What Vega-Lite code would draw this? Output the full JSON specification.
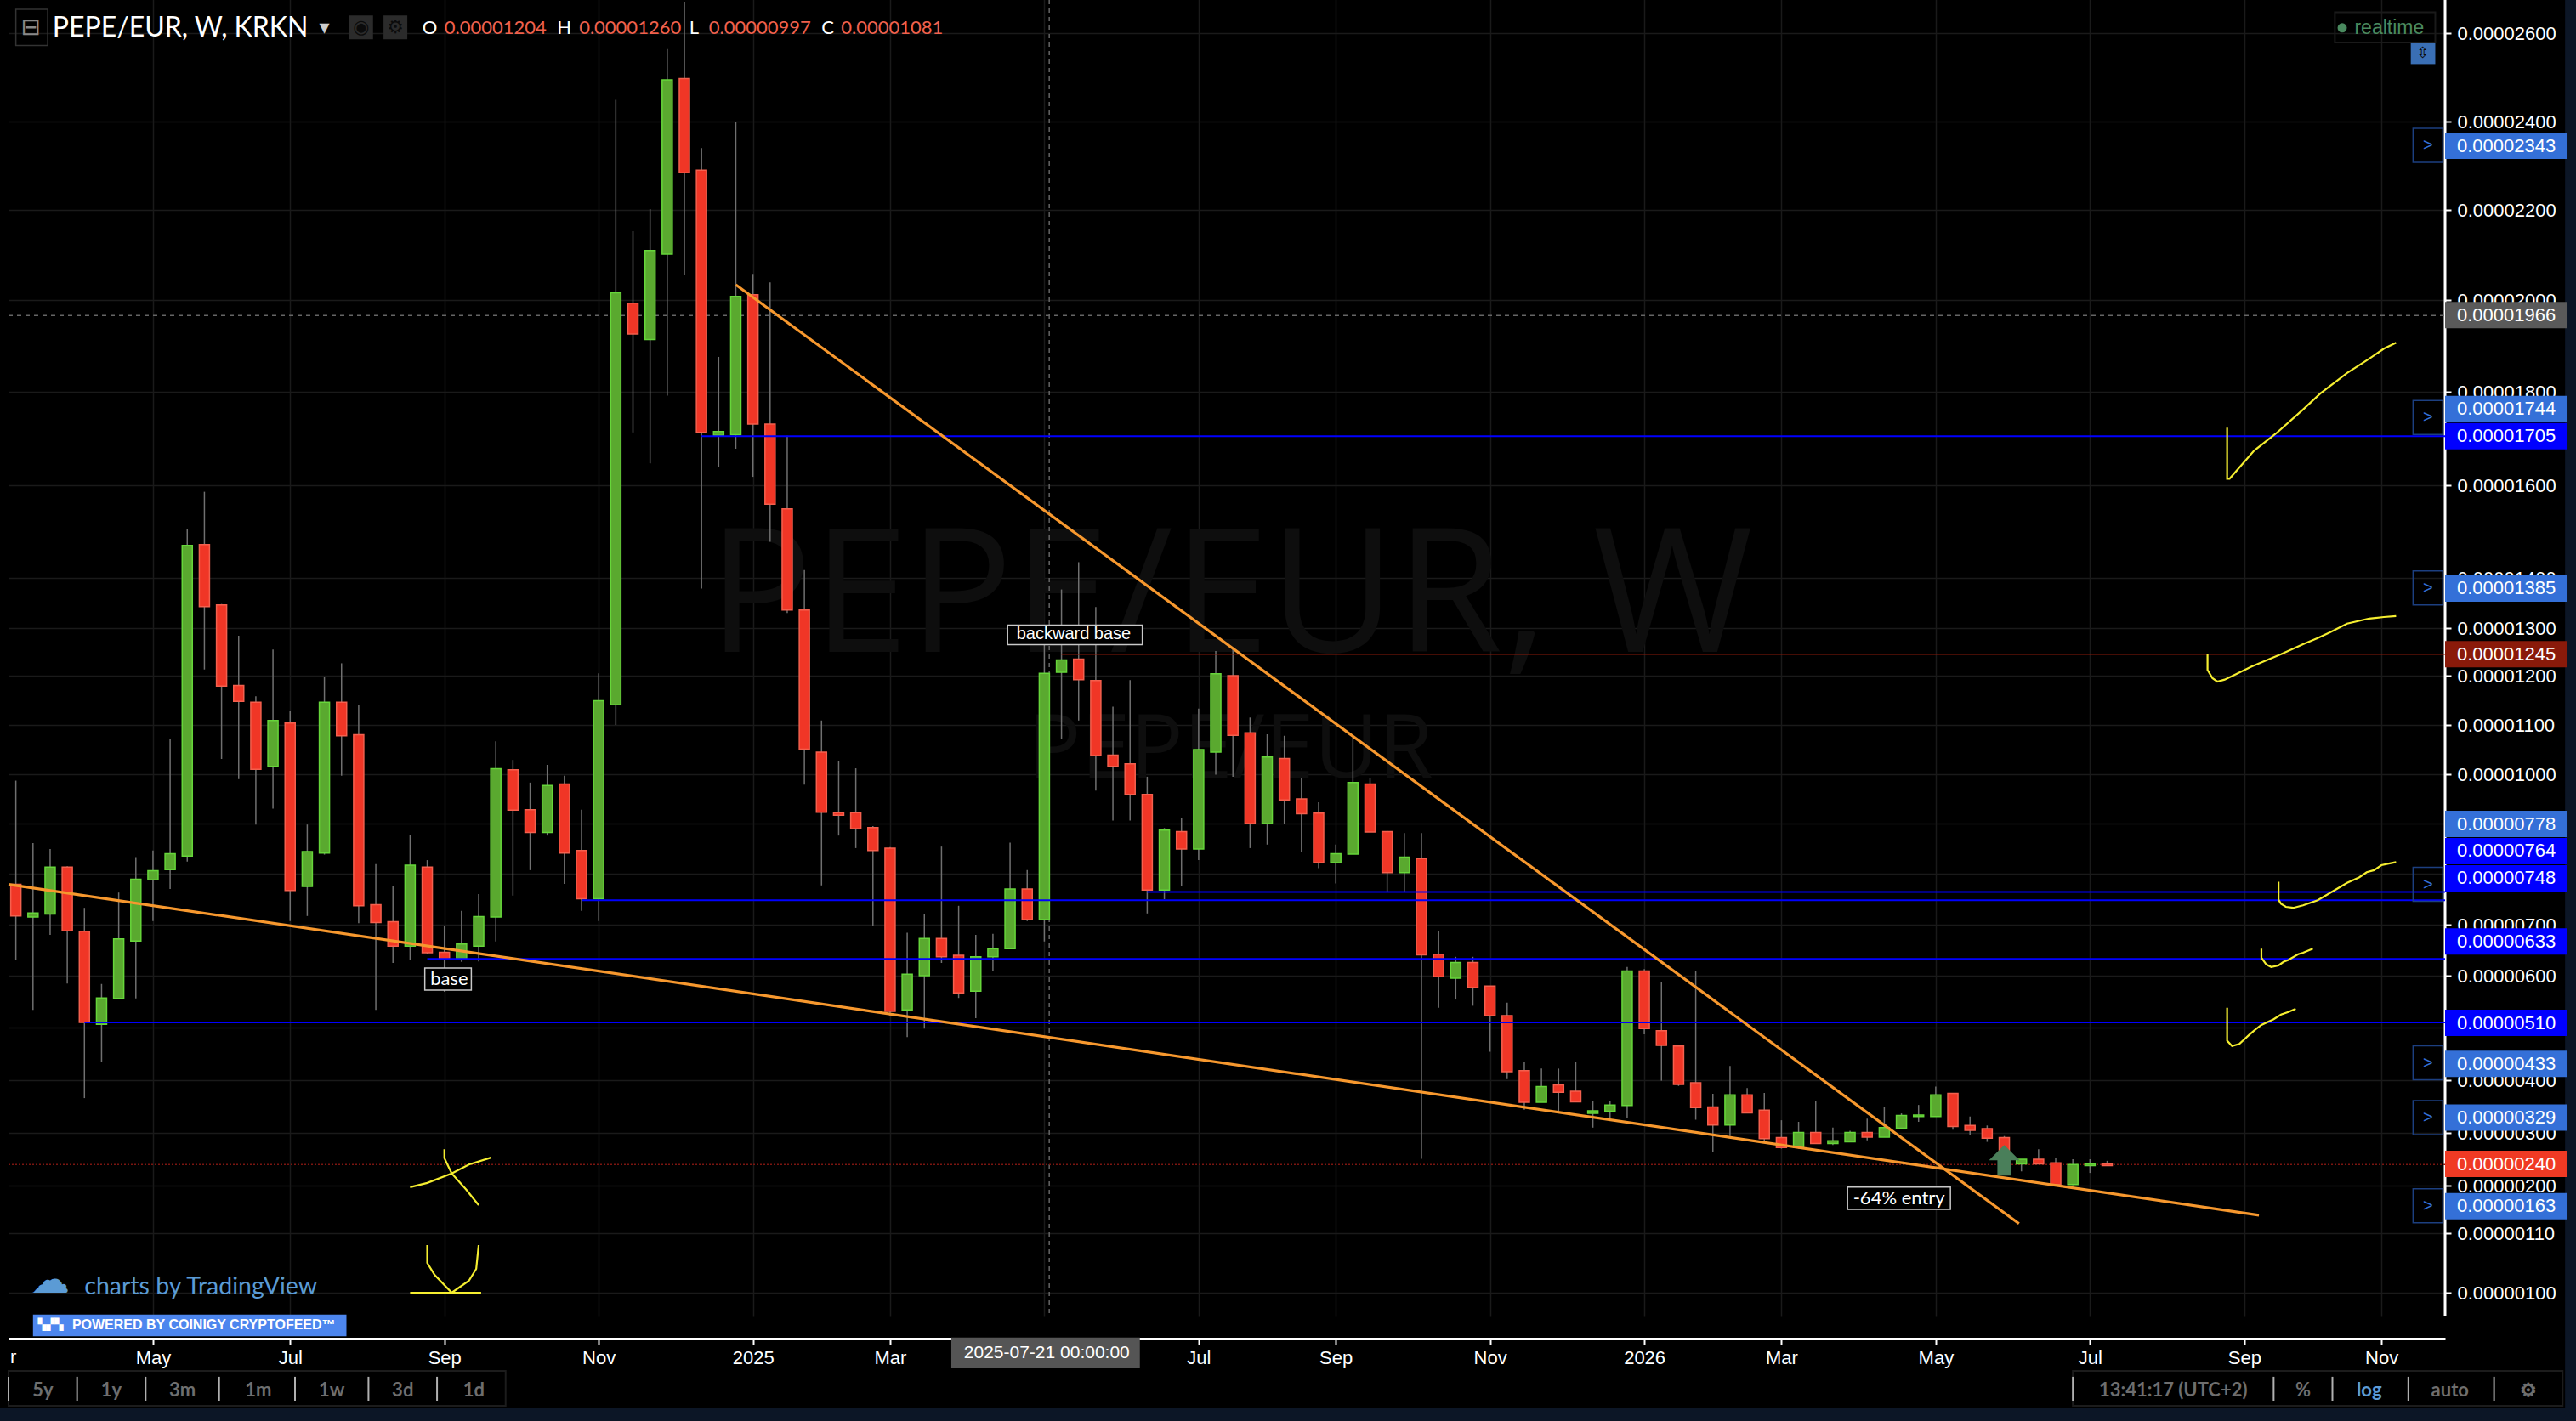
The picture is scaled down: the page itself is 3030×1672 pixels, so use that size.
{
"$schema":"https://vega.github.io/schema/vega-lite/v6.json",
"width":2866,"height":1549,"autosize":{"type":"none"},
"padding":{"left":10,"right":154,"top":0,"bottom":123},
"background":"#000000",
"config":{"view":{"stroke":null}},
"datasets":{
"candles":[
{"date":"2024-03-11","open":0.00000779,"high":0.00000987,"low":0.00000631,"close":0.00000717},
{"date":"2024-03-18","open":0.00000715,"high":0.00000861,"low":0.00000534,"close":0.00000723},
{"date":"2024-03-25","open":0.00000721,"high":0.00000849,"low":0.00000680,"close":0.00000813},
{"date":"2024-04-01","open":0.00000813,"high":0.00000815,"low":0.00000585,"close":0.00000688},
{"date":"2024-04-08","open":0.00000687,"high":0.00000733,"low":0.00000366,"close":0.00000510},
{"date":"2024-04-15","open":0.00000506,"high":0.00000584,"low":0.00000435,"close":0.00000557},
{"date":"2024-04-22","open":0.00000556,"high":0.00000763,"low":0.00000555,"close":0.00000672},
{"date":"2024-04-29","open":0.00000668,"high":0.00000833,"low":0.00000556,"close":0.00000789},
{"date":"2024-05-06","open":0.00000788,"high":0.00000846,"low":0.00000707,"close":0.00000806},
{"date":"2024-05-13","open":0.00000808,"high":0.00001071,"low":0.00000770,"close":0.00000840},
{"date":"2024-05-20","open":0.00000835,"high":0.00001506,"low":0.00000824,"close":0.00001470},
{"date":"2024-05-27","open":0.00001472,"high":0.00001586,"low":0.00001213,"close":0.00001343},
{"date":"2024-06-03","open":0.00001346,"high":0.00001348,"low":0.00001031,"close":0.00001179},
{"date":"2024-06-10","open":0.00001180,"high":0.00001284,"low":0.00000990,"close":0.00001148},
{"date":"2024-06-17","open":0.00001146,"high":0.00001158,"low":0.00000898,"close":0.00001010},
{"date":"2024-06-24","open":0.00001016,"high":0.00001255,"low":0.00000930,"close":0.00001109},
{"date":"2024-07-01","open":0.00001104,"high":0.00001128,"low":0.00000707,"close":0.00000767},
{"date":"2024-07-08","open":0.00000775,"high":0.00000898,"low":0.00000717,"close":0.00000844},
{"date":"2024-07-15","open":0.00000841,"high":0.00001197,"low":0.00000838,"close":0.00001146},
{"date":"2024-07-22","open":0.00001146,"high":0.00001226,"low":0.00000997,"close":0.00001078},
{"date":"2024-07-29","open":0.00001080,"high":0.00001141,"low":0.00000703,"close":0.00000737},
{"date":"2024-08-05","open":0.00000739,"high":0.00000819,"low":0.00000534,"close":0.00000704},
{"date":"2024-08-12","open":0.00000706,"high":0.00000776,"low":0.00000625,"close":0.00000658},
{"date":"2024-08-19","open":0.00000658,"high":0.00000878,"low":0.00000631,"close":0.00000817},
{"date":"2024-08-26","open":0.00000813,"high":0.00000827,"low":0.00000642,"close":0.00000645},
{"date":"2024-09-02","open":0.00000646,"high":0.00000697,"low":0.00000569,"close":0.00000633},
{"date":"2024-09-09","open":0.00000633,"high":0.00000727,"low":0.00000627,"close":0.00000662},
{"date":"2024-09-16","open":0.00000658,"high":0.00000760,"low":0.00000628,"close":0.00000716},
{"date":"2024-09-23","open":0.00000715,"high":0.00001067,"low":0.00000667,"close":0.00001011},
{"date":"2024-09-30","open":0.00001009,"high":0.00001029,"low":0.00000757,"close":0.00000927},
{"date":"2024-10-07","open":0.00000928,"high":0.00000983,"low":0.00000807,"close":0.00000882},
{"date":"2024-10-14","open":0.00000882,"high":0.00001019,"low":0.00000876,"close":0.00000977},
{"date":"2024-10-21","open":0.00000980,"high":0.00000997,"low":0.00000780,"close":0.00000841},
{"date":"2024-10-28","open":0.00000846,"high":0.00000928,"low":0.00000727,"close":0.00000751},
{"date":"2024-11-04","open":0.00000751,"high":0.00001205,"low":0.00000707,"close":0.00001149},
{"date":"2024-11-11","open":0.00001141,"high":0.00002449,"low":0.00001100,"close":0.00002016},
{"date":"2024-11-18","open":0.00001993,"high":0.00002153,"low":0.00001713,"close":0.00001926},
{"date":"2024-11-25","open":0.00001914,"high":0.00002202,"low":0.00001647,"close":0.00002110},
{"date":"2024-12-02","open":0.00002102,"high":0.00002564,"low":0.00001792,"close":0.00002494},
{"date":"2024-12-09","open":0.00002497,"high":0.00002671,"low":0.00002056,"close":0.00002284},
{"date":"2024-12-16","open":0.00002290,"high":0.00002340,"low":0.00001379,"close":0.00001713},
{"date":"2024-12-23","open":0.00001707,"high":0.00001876,"low":0.00001640,"close":0.00001715},
{"date":"2024-12-30","open":0.00001708,"high":0.00002398,"low":0.00001678,"close":0.00002008},
{"date":"2025-01-06","open":0.00002012,"high":0.00002058,"low":0.00001618,"close":0.00001731},
{"date":"2025-01-13","open":0.00001731,"high":0.00002039,"low":0.00001478,"close":0.00001559},
{"date":"2025-01-20","open":0.00001549,"high":0.00001706,"low":0.00001330,"close":0.00001336},
{"date":"2025-01-27","open":0.00001336,"high":0.00001417,"low":0.00000979,"close":0.00001051},
{"date":"2025-02-03","open":0.00001045,"high":0.00001109,"low":0.00000777,"close":0.00000923},
{"date":"2025-02-10","open":0.00000922,"high":0.00001026,"low":0.00000876,"close":0.00000917},
{"date":"2025-02-17","open":0.00000922,"high":0.00001012,"low":0.00000851,"close":0.00000890},
{"date":"2025-02-24","open":0.00000892,"high":0.00000895,"low":0.00000697,"close":0.00000846},
{"date":"2025-03-03","open":0.00000851,"high":0.00000853,"low":0.00000523,"close":0.00000531},
{"date":"2025-03-10","open":0.00000534,"high":0.00000684,"low":0.00000482,"close":0.00000603},
{"date":"2025-03-17","open":0.00000600,"high":0.00000720,"low":0.00000498,"close":0.00000673},
{"date":"2025-03-24","open":0.00000673,"high":0.00000854,"low":0.00000625,"close":0.00000637},
{"date":"2025-03-31","open":0.00000640,"high":0.00000737,"low":0.00000557,"close":0.00000567},
{"date":"2025-04-07","open":0.00000570,"high":0.00000680,"low":0.00000518,"close":0.00000637},
{"date":"2025-04-14","open":0.00000637,"high":0.00000682,"low":0.00000610,"close":0.00000653},
{"date":"2025-04-21","open":0.00000653,"high":0.00000862,"low":0.00000653,"close":0.00000770},
{"date":"2025-04-28","open":0.00000770,"high":0.00000807,"low":0.00000707,"close":0.00000710},
{"date":"2025-05-05","open":0.00000710,"high":0.00001302,"low":0.00000667,"close":0.00001205},
{"date":"2025-05-12","open":0.00001207,"high":0.00001377,"low":0.00001071,"close":0.00001233},
{"date":"2025-05-19","open":0.00001235,"high":0.00001434,"low":0.00001109,"close":0.00001192},
{"date":"2025-05-26","open":0.00001190,"high":0.00001342,"low":0.00000967,"close":0.00001038},
{"date":"2025-06-02","open":0.00001039,"high":0.00001137,"low":0.00000906,"close":0.00001016},
{"date":"2025-06-09","open":0.00001021,"high":0.00001191,"low":0.00000906,"close":0.00000959},
{"date":"2025-06-16","open":0.00000959,"high":0.00000995,"low":0.00000722,"close":0.00000768},
{"date":"2025-06-23","open":0.00000768,"high":0.00000891,"low":0.00000750,"close":0.00000887},
{"date":"2025-06-30","open":0.00000884,"high":0.00000912,"low":0.00000776,"close":0.00000849},
{"date":"2025-07-07","open":0.00000849,"high":0.00001133,"low":0.00000827,"close":0.00001050},
{"date":"2025-07-14","open":0.00001045,"high":0.00001252,"low":0.00000999,"close":0.00001204},
{"date":"2025-07-21","open":0.00001200,"high":0.00001256,"low":0.00000995,"close":0.00001079},
{"date":"2025-07-28","open":0.00001084,"high":0.00001115,"low":0.00000851,"close":0.00000900},
{"date":"2025-08-04","open":0.00000900,"high":0.00001081,"low":0.00000858,"close":0.00001035},
{"date":"2025-08-11","open":0.00001032,"high":0.00001078,"low":0.00000899,"close":0.00000948},
{"date":"2025-08-18","open":0.00000950,"high":0.00000992,"low":0.00000844,"close":0.00000920},
{"date":"2025-08-25","open":0.00000921,"high":0.00000943,"low":0.00000811,"close":0.00000822},
{"date":"2025-09-01","open":0.00000822,"high":0.00000858,"low":0.00000781,"close":0.00000840},
{"date":"2025-09-08","open":0.00000839,"high":0.00001074,"low":0.00000839,"close":0.00000983},
{"date":"2025-09-15","open":0.00000980,"high":0.00000992,"low":0.00000883,"close":0.00000883},
{"date":"2025-09-22","open":0.00000884,"high":0.00000885,"low":0.00000764,"close":0.00000802},
{"date":"2025-09-29","open":0.00000802,"high":0.00000881,"low":0.00000764,"close":0.00000833},
{"date":"2025-10-06","open":0.00000830,"high":0.00000881,"low":0.00000251,"close":0.00000641},
{"date":"2025-10-13","open":0.00000642,"high":0.00000687,"low":0.00000538,"close":0.00000598},
{"date":"2025-10-20","open":0.00000595,"high":0.00000637,"low":0.00000554,"close":0.00000626},
{"date":"2025-10-27","open":0.00000626,"high":0.00000637,"low":0.00000542,"close":0.00000577},
{"date":"2025-11-03","open":0.00000580,"high":0.00000580,"low":0.00000454,"close":0.00000523},
{"date":"2025-11-10","open":0.00000523,"high":0.00000548,"low":0.00000402,"close":0.00000416},
{"date":"2025-11-17","open":0.00000418,"high":0.00000434,"low":0.00000344,"close":0.00000358},
{"date":"2025-11-24","open":0.00000358,"high":0.00000422,"low":0.00000358,"close":0.00000388},
{"date":"2025-12-01","open":0.00000391,"high":0.00000422,"low":0.00000341,"close":0.00000377},
{"date":"2025-12-08","open":0.00000379,"high":0.00000434,"low":0.00000359,"close":0.00000359},
{"date":"2025-12-15","open":0.00000337,"high":0.00000360,"low":0.00000310,"close":0.00000342},
{"date":"2025-12-22","open":0.00000341,"high":0.00000360,"low":0.00000328,"close":0.00000353},
{"date":"2025-12-29","open":0.00000352,"high":0.00000617,"low":0.00000328,"close":0.00000609},
{"date":"2026-01-05","open":0.00000609,"high":0.00000613,"low":0.00000487,"close":0.00000498},
{"date":"2026-01-12","open":0.00000494,"high":0.00000587,"low":0.00000399,"close":0.00000466},
{"date":"2026-01-19","open":0.00000465,"high":0.00000465,"low":0.00000389,"close":0.00000392},
{"date":"2026-01-26","open":0.00000395,"high":0.00000610,"low":0.00000325,"close":0.00000348},
{"date":"2026-02-02","open":0.00000349,"high":0.00000374,"low":0.00000263,"close":0.00000315},
{"date":"2026-02-09","open":0.00000315,"high":0.00000427,"low":0.00000294,"close":0.00000372},
{"date":"2026-02-16","open":0.00000372,"high":0.00000385,"low":0.00000338,"close":0.00000338},
{"date":"2026-02-23","open":0.00000343,"high":0.00000376,"low":0.00000285,"close":0.00000289},
{"date":"2026-03-02","open":0.00000291,"high":0.00000324,"low":0.00000270,"close":0.00000272},
{"date":"2026-03-09","open":0.00000272,"high":0.00000321,"low":0.00000270,"close":0.00000301},
{"date":"2026-03-16","open":0.00000301,"high":0.00000360,"low":0.00000280,"close":0.00000280},
{"date":"2026-03-23","open":0.00000280,"high":0.00000310,"low":0.00000277,"close":0.00000285},
{"date":"2026-03-30","open":0.00000283,"high":0.00000304,"low":0.00000283,"close":0.00000301},
{"date":"2026-04-06","open":0.00000301,"high":0.00000327,"low":0.00000286,"close":0.00000292},
{"date":"2026-04-13","open":0.00000292,"high":0.00000349,"low":0.00000292,"close":0.00000310},
{"date":"2026-04-20","open":0.00000309,"high":0.00000337,"low":0.00000309,"close":0.00000333},
{"date":"2026-04-27","open":0.00000331,"high":0.00000353,"low":0.00000321,"close":0.00000334},
{"date":"2026-05-04","open":0.00000331,"high":0.00000388,"low":0.00000331,"close":0.00000372},
{"date":"2026-05-11","open":0.00000375,"high":0.00000375,"low":0.00000306,"close":0.00000312},
{"date":"2026-05-18","open":0.00000314,"high":0.00000331,"low":0.00000295,"close":0.00000305},
{"date":"2026-05-25","open":0.00000308,"high":0.00000314,"low":0.00000283,"close":0.00000290},
{"date":"2026-06-01","open":0.00000291,"high":0.00000294,"low":0.00000242,"close":0.00000250},
{"date":"2026-06-08","open":0.00000241,"high":0.00000250,"low":0.00000227,"close":0.00000250},
{"date":"2026-06-15","open":0.00000250,"high":0.00000269,"low":0.00000241,"close":0.00000241},
{"date":"2026-06-22","open":0.00000243,"high":0.00000253,"low":0.00000202,"close":0.00000202},
{"date":"2026-06-29","open":0.00000202,"high":0.00000250,"low":0.00000201,"close":0.00000240},
{"date":"2026-07-06","open":0.00000238,"high":0.00000250,"low":0.00000224,"close":0.00000241},
{"date":"2026-07-13","open":0.00000241,"high":0.00000247,"low":0.00000238,"close":0.00000238}
],
"tags":[
{"date":"2026-11-28","date2":"2027-01-17","price":0.00002345,"text":"0.00002343","kind":"alert"},
{"date":"2026-11-28","date2":"2027-01-17","price":0.00001967,"text":"0.00001966","kind":"cross"},
{"date":"2026-11-28","date2":"2027-01-17","price":0.00001763,"text":"0.00001744","kind":"alert"},
{"date":"2026-11-28","date2":"2027-01-17","price":0.00001705,"text":"0.00001705","kind":"level"},
{"date":"2026-11-28","date2":"2027-01-17","price":0.00001379,"text":"0.00001385","kind":"alert"},
{"date":"2026-11-28","date2":"2027-01-17","price":0.00001245,"text":"0.00001245","kind":"resistance"},
{"date":"2026-11-28","date2":"2027-01-17","price":0.00000899,"text":"0.00000778","kind":"alert"},
{"date":"2026-11-28","date2":"2027-01-17","price":0.00000845,"text":"0.00000764","kind":"level"},
{"date":"2026-11-28","date2":"2027-01-17","price":0.00000791,"text":"0.00000748","kind":"level"},
{"date":"2026-11-28","date2":"2027-01-17","price":0.00000667,"text":"0.00000633","kind":"level"},
{"date":"2026-11-28","date2":"2027-01-17","price":0.00000509,"text":"0.00000510","kind":"level"},
{"date":"2026-11-28","date2":"2027-01-17","price":0.00000431,"text":"0.00000433","kind":"alert"},
{"date":"2026-11-28","date2":"2027-01-17","price":0.00000329,"text":"0.00000329","kind":"alert"},
{"date":"2026-11-28","date2":"2027-01-17","price":0.00000241,"text":"0.00000240","kind":"last"},
{"date":"2026-11-28","date2":"2027-01-17","price":0.00000161,"text":"0.00000163","kind":"alert"}
],
"alerts":[
{"date":"2026-11-21","price":0.00002346,"text":">"},
{"date":"2026-11-21","price":0.00001745,"text":">"},
{"date":"2026-11-21","price":0.00001380,"text":">"},
{"date":"2026-11-21","price":0.00000779,"text":">"},
{"date":"2026-11-21","price":0.00000433,"text":">"},
{"date":"2026-11-21","price":0.00000329,"text":">"},
{"date":"2026-11-21","price":0.00000162,"text":">"}
],
"boxes":[
{"date":"2024-08-25","date2":"2024-09-13","price":0.00000615,"price2":0.00000572},
{"date":"2025-04-20","date2":"2025-06-14","price":0.00001306,"price2":0.00001265},
{"date":"2026-03-29","date2":"2026-05-10","price":0.00000197,"price2":0.00000155}
],
"buttons":[
{"date":"2024-03-22","price":0.00000024,"text":"5y"},
{"date":"2024-04-19","price":0.00000024,"text":"1y"},
{"date":"2024-05-18","price":0.00000024,"text":"3m"},
{"date":"2024-06-18","price":0.00000024,"text":"1m"},
{"date":"2024-07-18","price":0.00000024,"text":"1w"},
{"date":"2024-08-16","price":0.00000024,"text":"3d"},
{"date":"2024-09-14","price":0.00000024,"text":"1d"},
{"date":"2026-08-09","price":0.00000024,"text":"13:41:17 (UTC+2)"},
{"date":"2026-10-01","price":0.00000024,"text":"%"},
{"date":"2026-11-30","price":0.00000024,"text":"auto"},
{"date":"2027-01-01","price":0.00000024,"text":"⚙"}
],
"separators":[
{"date":"2024-03-08","price":0.000000345,"price2":0.000000155},{"date":"2024-04-05","price":0.000000345,"price2":0.000000155},{"date":"2024-05-03","price":0.000000345,"price2":0.000000155},{"date":"2024-06-02","price":0.000000345,"price2":0.000000155},{"date":"2024-07-03","price":0.000000345,"price2":0.000000155},{"date":"2024-08-02","price":0.000000345,"price2":0.000000155},{"date":"2024-08-30","price":0.000000345,"price2":0.000000155},
{"date":"2026-06-29","price":0.000000345,"price2":0.000000155},{"date":"2026-09-19","price":0.000000345,"price2":0.000000155},{"date":"2026-10-13","price":0.000000345,"price2":0.000000155},{"date":"2026-11-13","price":0.000000345,"price2":0.000000155},{"date":"2026-12-18","price":0.000000345,"price2":0.000000155}
]
},
"encoding":{
"x":{"field":"date","type":"temporal","title":null,
"scale":{"type":"utc","padding":0,"domain":["2024-03-08","2026-11-28"]},
"axis":{"values":["2024-05-06","2024-07-01","2024-09-02","2024-11-04","2025-01-06","2025-03-03","2025-05-05","2025-07-07","2025-09-01","2025-11-03","2026-01-05","2026-03-02","2026-05-04","2026-07-06","2026-09-07","2026-11-02"],
"labelExpr":"utcmonth(datum.value)==0 ? utcFormat(datum.value,'%Y') : utcFormat(datum.value,'%b')",
"offset":26,"grid":true,"gridColor":"#1a1a1a","gridWidth":1.5,"domainColor":"#ffffff","domainWidth":3,"tickColor":"#ffffff","tickWidth":2,"tickSize":7,"labelColor":"#ffffff","labelFont":"Liberation Sans","labelFontSize":22,"labelPadding":5,"labelOverlap":false,"labelFlush":false,"labelBound":false,"title":null}},
"y":{"field":"price","type":"quantitative","title":null,
"scale":{"type":"linear","zero":false,"nice":false,
"domain":[0,0.000001,0.0000011,0.000002,0.000003,0.000004,0.000005,0.000006,0.000007,0.000008,0.000009,0.00001,0.000011,0.000012,0.000013,0.000014,0.000016,0.000018,0.00002,0.000022,0.000024,0.000026,0.00002675],
"range":[1672,1521,1451,1395,1333,1271,1209,1148,1088,1028,969,911,853,795,739,680,571,461,353,247,143,39,0]},
"axis":{"orient":"right","values":[0.000001,0.0000011,0.000002,0.000003,0.000004,0.000005,0.000006,0.000007,0.000008,0.000009,0.00001,0.000011,0.000012,0.000013,0.000014,0.000016,0.000018,0.00002,0.000022,0.000024,0.000026],
"format":".8f","grid":true,"gridColor":"#1a1a1a","gridWidth":1.5,"domain":false,"tickColor":"#ffffff","tickWidth":2,"tickSize":7,"labelColor":"#ffffff","labelFont":"Liberation Sans","labelFontSize":22,"labelPadding":7,"labelOverlap":false,"labelFlush":false,"labelBound":false,"title":null}}
},
"layer":[
{"data":{"values":[
{"date":"2027-01-16","date2":"2027-01-21","price":0.00002675,"price2":0},
{"date":"2024-03-01","date2":"2027-01-21","price":0.0000001,"price2":0}
]},"mark":{"type":"rect","color":"#0c1626"},"encoding":{"x2":{"field":"date2"},"y2":{"field":"price2"}}},
{"data":{"values":[{"date":"2025-07-20","price":0.00001356,"text":"PEPE/EUR,   W"}]},"mark":{"type":"text","font":"Open Sans","fontSize":204,"color":"#0e0e0e","align":"center","baseline":"middle"},"encoding":{"text":{"field":"text"}}},
{"data":{"values":[{"date":"2025-07-20","price":0.00001047,"text":"PEPE/EUR"}]},"mark":{"type":"text","font":"Open Sans","fontSize":104,"color":"#0e0e0e","align":"center","baseline":"middle"},"encoding":{"text":{"field":"text"}}},
{"data":{"values":[{"date":"2026-11-28","price":0.00002675,"price2":0.000000815}]},"mark":{"type":"rule","color":"#ffffff","strokeWidth":3},"encoding":{"y2":{"field":"price2"}}},
{"data":{"values":[{"date":"2024-03-08","date2":"2026-11-28","price":0.00001966}]},"mark":{"type":"rule","color":"#666666","strokeWidth":1.5,"strokeDash":[5,5]},"encoding":{"x2":{"field":"date2"}}},
{"data":{"values":[{"date":"2025-05-07","price":0.00002675,"price2":0.000000815}]},"mark":{"type":"rule","color":"#666666","strokeWidth":1.5,"strokeDash":[5,5]},"encoding":{"y2":{"field":"price2"}}},
{"data":{"values":[{"date":"2024-03-08","date2":"2026-11-28","price":0.0000024}]},"mark":{"type":"rule","color":"#7a1510","strokeWidth":1.5,"strokeDash":[2,2]},"encoding":{"x2":{"field":"date2"}}},
{"data":{"name":"candles"},"mark":{"type":"rule","color":"#707070","strokeWidth":1.5},"encoding":{"y":{"field":"low","type":"quantitative","title":null},"y2":{"field":"high"}}},
{"data":{"name":"candles"},"mark":{"type":"bar","size":12,"strokeWidth":1.5},"encoding":{"y":{"field":"open","type":"quantitative","title":null},"y2":{"field":"close"},
"fill":{"condition":{"test":"datum.close>=datum.open","value":"#5aa92f"},"value":"#f03626"},
"stroke":{"condition":{"test":"datum.close>=datum.open","value":"#66d63a"},"value":"#f4604e"}}},
{"data":{"values":[
{"date":"2024-12-16","date2":"2026-11-28","price":0.00001705},
{"date":"2025-06-16","date2":"2026-11-28","price":0.00000764},
{"date":"2024-10-28","date2":"2026-11-28","price":0.00000748},
{"date":"2024-08-26","date2":"2026-11-28","price":0.00000633},
{"date":"2024-04-08","date2":"2026-11-28","price":0.0000051}
]},"mark":{"type":"rule","color":"#0000ff","strokeWidth":2},"encoding":{"x2":{"field":"date2"}}},
{"data":{"values":[{"date":"2025-05-12","date2":"2026-11-28","price":0.00001245}]},"mark":{"type":"rule","color":"#8a1a0a","strokeWidth":1.5},"encoding":{"x2":{"field":"date2"}}},
{"data":{"values":[
{"name":"support","seq":1,"date":"2024-03-08","price":0.00000779},
{"name":"support","seq":2,"date":"2026-09-13","price":0.00000144},
{"name":"resistance","seq":1,"date":"2024-12-30","price":0.00002034},
{"name":"resistance","seq":2,"date":"2026-06-07","price":0.00000128}
]},"mark":{"type":"line","color":"#f7982e","strokeWidth":3.2},"encoding":{"detail":{"field":"name"},"order":{"field":"seq"}}},
{"data":{"values":[
{"name":"c1","seq":1,"date":"2026-08-31","price":0.00001723},{"name":"c1","seq":2,"date":"2026-08-31","price":0.00001614},{"name":"c1","seq":3,"date":"2026-09-01","price":0.00001614},{"name":"c1","seq":4,"date":"2026-09-11","price":0.00001674},{"name":"c1","seq":5,"date":"2026-09-20","price":0.00001711},{"name":"c1","seq":6,"date":"2026-10-01","price":0.00001762},{"name":"c1","seq":7,"date":"2026-10-08","price":0.00001796},{"name":"c1","seq":8,"date":"2026-10-19","price":0.00001841},{"name":"c1","seq":9,"date":"2026-10-28","price":0.00001872},{"name":"c1","seq":10,"date":"2026-11-03","price":0.00001894},{"name":"c1","seq":11,"date":"2026-11-08","price":0.00001907},
{"name":"c2","seq":1,"date":"2026-08-23","price":0.00001245},{"name":"c2","seq":2,"date":"2026-08-23","price":0.00001212},{"name":"c2","seq":3,"date":"2026-08-25","price":0.00001195},{"name":"c2","seq":4,"date":"2026-08-27","price":0.00001188},{"name":"c2","seq":5,"date":"2026-08-30","price":0.00001192},{"name":"c2","seq":6,"date":"2026-09-04","price":0.00001204},{"name":"c2","seq":7,"date":"2026-09-10","price":0.00001219},{"name":"c2","seq":8,"date":"2026-09-22","price":0.00001245},{"name":"c2","seq":9,"date":"2026-10-01","price":0.00001266},{"name":"c2","seq":10,"date":"2026-10-07","price":0.00001279},{"name":"c2","seq":11,"date":"2026-10-12","price":0.00001291},{"name":"c2","seq":12,"date":"2026-10-19","price":0.00001309},{"name":"c2","seq":13,"date":"2026-10-28","price":0.00001319},{"name":"c2","seq":14,"date":"2026-11-03","price":0.00001322},{"name":"c2","seq":15,"date":"2026-11-08","price":0.00001324},
{"name":"c3","seq":1,"date":"2026-09-21","price":0.00000784},{"name":"c3","seq":2,"date":"2026-09-21","price":0.00000749},{"name":"c3","seq":3,"date":"2026-09-22","price":0.00000741},{"name":"c3","seq":4,"date":"2026-09-24","price":0.00000735},{"name":"c3","seq":5,"date":"2026-09-27","price":0.00000733},{"name":"c3","seq":6,"date":"2026-10-01","price":0.00000738},{"name":"c3","seq":7,"date":"2026-10-07","price":0.00000748},{"name":"c3","seq":8,"date":"2026-10-13","price":0.00000765},{"name":"c3","seq":9,"date":"2026-10-19","price":0.00000782},{"name":"c3","seq":10,"date":"2026-10-24","price":0.00000793},{"name":"c3","seq":11,"date":"2026-10-27","price":0.00000803},{"name":"c3","seq":12,"date":"2026-10-30","price":0.00000807},{"name":"c3","seq":13,"date":"2026-11-02","price":0.00000817},{"name":"c3","seq":14,"date":"2026-11-05","price":0.0000082},{"name":"c3","seq":15,"date":"2026-11-08","price":0.00000823},
{"name":"c4","seq":1,"date":"2026-09-14","price":0.00000653},{"name":"c4","seq":2,"date":"2026-09-14","price":0.00000635},{"name":"c4","seq":3,"date":"2026-09-16","price":0.00000622},{"name":"c4","seq":4,"date":"2026-09-18","price":0.00000617},{"name":"c4","seq":5,"date":"2026-09-21","price":0.0000062},{"name":"c4","seq":6,"date":"2026-09-23","price":0.00000627},{"name":"c4","seq":7,"date":"2026-09-25","price":0.00000631},{"name":"c4","seq":8,"date":"2026-09-29","price":0.00000642},{"name":"c4","seq":9,"date":"2026-10-01","price":0.00000645},{"name":"c4","seq":10,"date":"2026-10-05","price":0.00000653},
{"name":"c5","seq":1,"date":"2026-08-31","price":0.00000538},{"name":"c5","seq":2,"date":"2026-08-31","price":0.00000475},{"name":"c5","seq":3,"date":"2026-09-02","price":0.00000465},{"name":"c5","seq":4,"date":"2026-09-05","price":0.00000469},{"name":"c5","seq":5,"date":"2026-09-09","price":0.00000486},{"name":"c5","seq":6,"date":"2026-09-11","price":0.00000494},{"name":"c5","seq":7,"date":"2026-09-14","price":0.00000505},{"name":"c5","seq":8,"date":"2026-09-19","price":0.00000516},{"name":"c5","seq":9,"date":"2026-09-22","price":0.00000525},{"name":"c5","seq":10,"date":"2026-09-25","price":0.0000053},{"name":"c5","seq":11,"date":"2026-09-28","price":0.00000536},
{"name":"x1","seq":1,"date":"2024-08-19","price":0.00000197},{"name":"x1","seq":2,"date":"2024-08-26","price":0.00000205},{"name":"x1","seq":3,"date":"2024-09-05","price":0.00000223},{"name":"x1","seq":4,"date":"2024-09-12","price":0.0000024},{"name":"x1","seq":5,"date":"2024-09-21","price":0.00000253},
{"name":"x2","seq":1,"date":"2024-09-02","price":0.00000269},{"name":"x2","seq":2,"date":"2024-09-02","price":0.00000252},{"name":"x2","seq":3,"date":"2024-09-05","price":0.00000223},{"name":"x2","seq":4,"date":"2024-09-11","price":0.00000192},{"name":"x2","seq":5,"date":"2024-09-16","price":0.00000163},
{"name":"u1","seq":1,"date":"2024-08-26","price":0.00000108},{"name":"u1","seq":2,"date":"2024-08-26","price":0.00000105},{"name":"u1","seq":3,"date":"2024-08-29","price":0.00000103},{"name":"u1","seq":4,"date":"2024-09-05","price":0.000001},{"name":"u1","seq":5,"date":"2024-09-12","price":0.00000102},{"name":"u1","seq":6,"date":"2024-09-15","price":0.00000104},{"name":"u1","seq":7,"date":"2024-09-16","price":0.00000108},
{"name":"u2","seq":1,"date":"2024-08-19","price":0.000001},{"name":"u2","seq":2,"date":"2024-09-17","price":0.000001}
]},"mark":{"type":"line","color":"#f5ee30","strokeWidth":2.2},"encoding":{"detail":{"field":"name"},"order":{"field":"seq"}}},
{"data":{"values":[{"date":"2026-06-01","price":0.00000248}]},"mark":{"type":"point","shape":"M0,-1 L1,0 L0.45,0 L0.45,1 L-0.45,1 L-0.45,0 L-1,0 Z","filled":true,"size":1296,"color":"#4a7f5a","opacity":1},"encoding":{}},
{"data":{"name":"boxes"},"mark":{"type":"rect","fill":"#000000","stroke":"#c8c8c8","strokeWidth":1.5},"encoding":{"x2":{"field":"date2"},"y2":{"field":"price2"}}},
{"data":{"values":[{"date":"2024-09-04","price":0.00000593,"text":"base"},{"date":"2026-04-19","price":0.00000176,"text":"-64% entry"}]},"mark":{"type":"text","font":"Lato","fontSize":22,"color":"#ffffff","align":"center","baseline":"middle"},"encoding":{"text":{"field":"text"}}},
{"data":{"values":[{"date":"2025-05-17","price":0.00001288,"text":"backward base"}]},"mark":{"type":"text","font":"Liberation Sans","fontSize":20,"color":"#ffffff","align":"center","baseline":"middle"},"encoding":{"text":{"field":"text"}}},
{"data":{"name":"tags"},"mark":{"type":"rect","height":31},"encoding":{"x2":{"field":"date2"},"color":{"field":"kind","type":"nominal","legend":null,"scale":{"domain":["alert","level","cross","resistance","last"],"range":["#3470d8","#0000ff","#5a5a5a","#8a1a0a","#f03a24"]}}}},
{"data":{"name":"tags"},"mark":{"type":"text","font":"Liberation Sans","fontSize":22,"color":"#ffffff","align":"left","baseline":"middle","dx":14},"encoding":{"text":{"field":"text"}}},
{"data":{"name":"alerts"},"mark":{"type":"rect","width":35,"height":40,"fill":null,"stroke":"#1c3f80","strokeWidth":1.5},"encoding":{}},
{"data":{"name":"alerts"},"mark":{"type":"text","font":"Liberation Sans","fontSize":20,"color":"#3470d8","align":"center","baseline":"middle"},"encoding":{"text":{"field":"text"}}},
{"data":{"values":[{"date":"2024-03-26","price":0.00002612,"text":"PEPE/EUR, W, KRKN"}]},"mark":{"type":"text","font":"Lato","fontSize":32,"color":"#ffffff","align":"left","baseline":"middle"},"encoding":{"text":{"field":"text"}}},
{"data":{"values":[{"date":"2024-08-24","price":0.00002612,"text":"O"},{"date":"2024-10-18","price":0.00002612,"text":"H"},{"date":"2024-12-11","price":0.00002612,"text":"L"},{"date":"2025-02-03","price":0.00002612,"text":"C"}]},"mark":{"type":"text","font":"Lato","fontSize":22,"color":"#ffffff","align":"left","baseline":"middle"},"encoding":{"text":{"field":"text"}}},
{"data":{"values":[{"date":"2024-09-02","price":0.00002612,"text":"0.00001204"},{"date":"2024-10-27","price":0.00002612,"text":"0.00001260"},{"date":"2024-12-19","price":0.00002612,"text":"0.00000997"},{"date":"2025-02-11","price":0.00002612,"text":"0.00001081"}]},"mark":{"type":"text","font":"Lato","fontSize":22,"color":"#f0614d","align":"left","baseline":"middle"},"encoding":{"text":{"field":"text"}}},
{"data":{"values":[{"date":"2024-03-11","date2":"2024-03-24","price":0.00002654,"price2":0.00002572}]},"mark":{"type":"rect","fill":null,"stroke":"#333333","strokeWidth":1.5},"encoding":{"x2":{"field":"date2"},"y2":{"field":"price2"}}},
{"data":{"values":[{"date":"2024-03-17","price":0.00002612,"text":"⊟"}]},"mark":{"type":"text","font":"DejaVu Sans","fontSize":28,"color":"#888888","align":"center","baseline":"middle"},"encoding":{"text":{"field":"text"}}},
{"data":{"values":[{"date":"2024-07-15","price":0.00002612,"text":"▾"}]},"mark":{"type":"text","font":"DejaVu Sans","fontSize":24,"color":"#cccccc","align":"center","baseline":"middle"},"encoding":{"text":{"field":"text"}}},
{"data":{"values":[{"date":"2024-07-30","price":0.00002613},{"date":"2024-08-13","price":0.00002613}]},"mark":{"type":"rect","width":28,"height":28,"fill":"#2b2b2b"},"encoding":{}},
{"data":{"values":[{"date":"2024-07-30","price":0.00002613,"text":"◉"},{"date":"2024-08-13","price":0.00002613,"text":"⚙"}]},"mark":{"type":"text","font":"DejaVu Sans","fontSize":22,"color":"#0b0b0b","align":"center","baseline":"middle"},"encoding":{"text":{"field":"text"}}},
{"data":{"values":[{"date":"2026-10-14","date2":"2026-11-24","price":0.00002647,"price2":0.00002579}]},"mark":{"type":"rect","fill":null,"stroke":"#1a1a1a","strokeWidth":2},"encoding":{"x2":{"field":"date2"},"y2":{"field":"price2"}}},
{"data":{"values":[{"date":"2026-11-14","date2":"2026-11-24","price":0.00002577,"price2":0.0000253}]},"mark":{"type":"rect","fill":"#3a6fb5"},"encoding":{"x2":{"field":"date2"},"y2":{"field":"price2"}}},
{"data":{"values":[{"date":"2026-11-19","price":0.00002553,"text":"⇳"}]},"mark":{"type":"text","font":"DejaVu Sans","fontSize":18,"color":"#0b0b0b","align":"center","baseline":"middle"},"encoding":{"text":{"field":"text"}}},
{"data":{"values":[{"date":"2026-10-17","price":0.00002612}]},"mark":{"type":"point","shape":"circle","filled":true,"size":120,"color":"#4a8a5f","opacity":1},"encoding":{}},
{"data":{"values":[{"date":"2026-10-22","price":0.00002612,"text":"realtime"}]},"mark":{"type":"text","font":"Liberation Sans","fontSize":23,"color":"#4a8a5f","align":"left","baseline":"middle"},"encoding":{"text":{"field":"text"}}},
{"data":{"values":[{"date":"2024-03-25","price":0.00000102,"text":"☁"}]},"mark":{"type":"text","font":"DejaVu Sans","fontSize":46,"color":"#5b9bd5","align":"center","baseline":"middle"},"encoding":{"text":{"field":"text"}}},
{"data":{"values":[{"date":"2024-04-08","price":0.00000101,"text":"charts by TradingView"}]},"mark":{"type":"text","font":"Lato","fontSize":28.5,"color":"#5b9bd5","align":"left","baseline":"middle"},"encoding":{"text":{"field":"text"}}},
{"data":{"values":[{"date":"2024-03-18","date2":"2024-07-24","price":0.00000083,"price2":0.00000066}]},"mark":{"type":"rect","fill":"#4d86ee"},"encoding":{"x2":{"field":"date2"},"y2":{"field":"price2"}}},
{"data":{"values":[{"date":"2024-03-20","price":0.00000075,"text":"▚▞▚"}]},"mark":{"type":"text","font":"DejaVu Sans","fontSize":13,"color":"#ffffff","align":"left","baseline":"middle"},"encoding":{"text":{"field":"text"}}},
{"data":{"values":[{"date":"2024-04-03","price":0.00000075,"text":"POWERED BY COINIGY CRYPTOFEED™"}]},"mark":{"type":"text","font":"Liberation Sans","fontWeight":"bold","fontSize":16,"color":"#ffffff","align":"left","baseline":"middle"},"encoding":{"text":{"field":"text"}}},
{"data":{"values":[{"date":"2025-03-28","date2":"2025-06-13","price":0.00000065,"price2":0.00000041}]},"mark":{"type":"rect","fill":"#555555"},"encoding":{"x2":{"field":"date2"},"y2":{"field":"price2"}}},
{"data":{"values":[{"date":"2025-05-06","price":0.00000053,"text":"2025-07-21 00:00:00"}]},"mark":{"type":"text","font":"Liberation Sans","fontSize":21,"color":"#ffffff","align":"center","baseline":"middle"},"encoding":{"text":{"field":"text"}}},
{"data":{"values":[{"date":"2024-03-10","price":0.0000005,"text":"r"}]},"mark":{"type":"text","font":"Liberation Sans","fontSize":22,"color":"#ffffff","align":"center","baseline":"middle"},"encoding":{"text":{"field":"text"}}},
{"data":{"values":[{"date":"2024-03-08","date2":"2024-09-27","price":0.00000039,"price2":0.00000012},{"date":"2026-06-29","date2":"2027-01-15","price":0.00000039,"price2":0.00000012}]},"mark":{"type":"rect","fill":null,"stroke":"#1c1c1c","strokeWidth":2},"encoding":{"x2":{"field":"date2"},"y2":{"field":"price2"}}},
{"data":{"name":"separators"},"mark":{"type":"rule","color":"#b0b0b0","strokeWidth":2},"encoding":{"y2":{"field":"price2"}}},
{"data":{"name":"buttons"},"mark":{"type":"text","font":"Lato","fontWeight":"bold","fontSize":22,"color":"#6e6e6e","align":"center","baseline":"middle"},"encoding":{"text":{"field":"text"}}},
{"data":{"values":[{"date":"2026-10-28","price":0.00000024,"text":"log"}]},"mark":{"type":"text","font":"Lato","fontWeight":"bold","fontSize":22,"color":"#5b9bd5","align":"center","baseline":"middle"},"encoding":{"text":{"field":"text"}}}
]
}
